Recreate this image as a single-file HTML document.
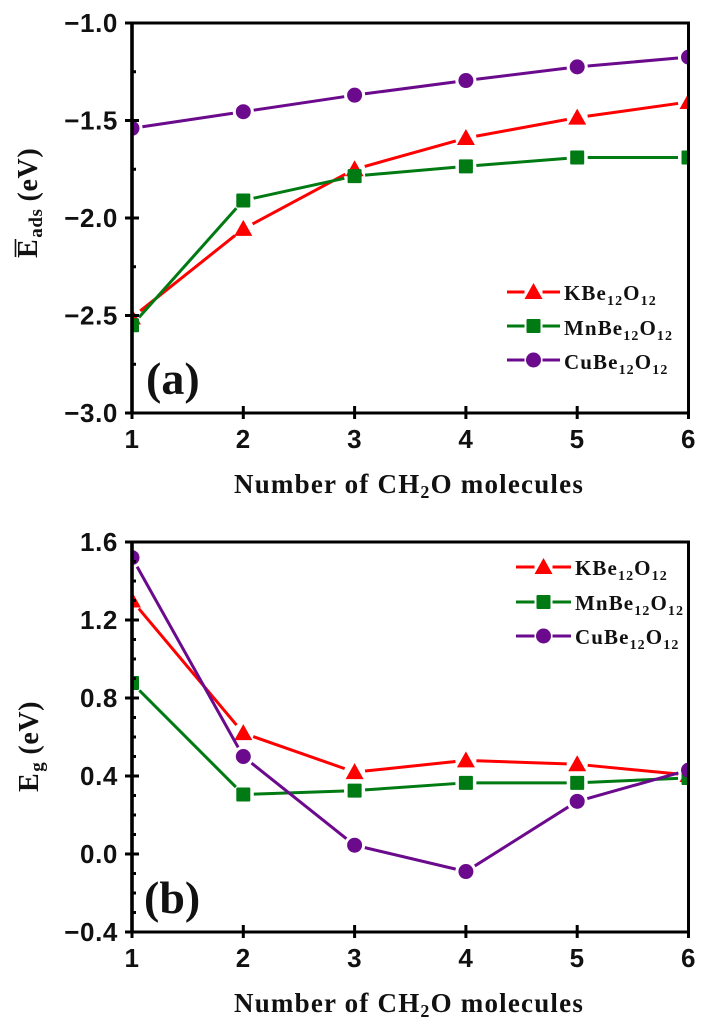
<!DOCTYPE html>
<html lang="en">
<head>
<meta charset="utf-8">
<title>Adsorption energy and band gap vs number of CH2O molecules</title>
<style>
html,body{margin:0;padding:0;background:#fff;}
svg{display:block;}
.tick{font:bold 26px "Liberation Sans",sans-serif;fill:#111;letter-spacing:.6px;}
.title{font:bold 27px "Liberation Serif",serif;fill:#111;letter-spacing:1.2px;}
.ytitle{font:bold 28px "Liberation Serif",serif;fill:#111;letter-spacing:.6px;}
.leg{font:bold 21px "Liberation Serif",serif;fill:#111;letter-spacing:1.1px;}
.panel{font:bold 46px "Liberation Serif",serif;fill:#111;}
</style>
</head>
<body>
<svg id="chart" xmlns="http://www.w3.org/2000/svg" width="716" height="1034" viewBox="0 0 716 1034">
<rect width="716" height="1034" fill="#fff"/>
<g id="panel-a"></g>
<g id="panel-b"></g>

<text class="ytitle" transform="translate(37,258) rotate(-90)">E<tspan font-size="19" dy="5" dx="1">ads</tspan><tspan dy="-5" dx="7">(eV)</tspan></text>
<line x1="15.5" y1="239" x2="15.5" y2="257" stroke="#111" stroke-width="1.6"/>
<text class="ytitle" transform="translate(38,792) rotate(-90)">E<tspan font-size="19" dy="5" dx="1">g</tspan><tspan dy="-5" dx="7">(eV)</tspan></text>

<text class="title" x="234" y="493">Number of CH<tspan font-size="18" dy="5">2</tspan><tspan dy="-5">O molecules</tspan></text>
<text class="title" x="234" y="1012">Number of CH<tspan font-size="18" dy="5">2</tspan><tspan dy="-5">O molecules</tspan></text>

<text class="panel" x="146" y="394">(a)</text>
<text class="panel" x="144" y="913">(b)</text>

<g>
  <g id="leg-a"></g>
  <text class="leg" x="564" y="300">KBe<tspan font-size="14" dy="5">12</tspan><tspan dy="-5">O</tspan><tspan font-size="14" dy="5">12</tspan></text>
  <text class="leg" x="564" y="335">MnBe<tspan font-size="14" dy="5">12</tspan><tspan dy="-5">O</tspan><tspan font-size="14" dy="5">12</tspan></text>
  <text class="leg" x="564" y="369">CuBe<tspan font-size="14" dy="5">12</tspan><tspan dy="-5">O</tspan><tspan font-size="14" dy="5">12</tspan></text>
</g>
<g>
  <g id="leg-b"></g>
  <text class="leg" x="575" y="575">KBe<tspan font-size="14" dy="5">12</tspan><tspan dy="-5">O</tspan><tspan font-size="14" dy="5">12</tspan></text>
  <text class="leg" x="575" y="610">MnBe<tspan font-size="14" dy="5">12</tspan><tspan dy="-5">O</tspan><tspan font-size="14" dy="5">12</tspan></text>
  <text class="leg" x="575" y="644">CuBe<tspan font-size="14" dy="5">12</tspan><tspan dy="-5">O</tspan><tspan font-size="14" dy="5">12</tspan></text>
</g>
</svg>
<script>
const categories = [1, 2, 3, 4, 5, 6];
const eadsTicks = [-3.0, -2.5, -2.0, -1.5, -1.0];
const eadsMinorTicks = [-2.75, -2.25, -1.75, -1.25];
const egTicks = [-0.4, 0.0, 0.4, 0.8, 1.2, 1.6];
const egMinorTicks = [-0.3, -0.2, -0.1, 0.1, 0.2, 0.3, 0.5, 0.6, 0.7, 0.9, 1.0, 1.1, 1.3, 1.4, 1.5];
const eadsK = [-2.51, -2.056, -1.75, -1.59, -1.485, -1.405];
const eadsMn = [-2.55, -1.91, -1.785, -1.735, -1.69, -1.69];
const eadsCu = [-1.54, -1.455, -1.37, -1.295, -1.225, -1.175];
const egK = [1.30, 0.62, 0.42, 0.48, 0.46, 0.405];
const egMn = [0.877, 0.305, 0.325, 0.365, 0.365, 0.39];
const egCu = [1.52, 0.50, 0.045, -0.09, 0.27, 0.43];

const NS = 'http://www.w3.org/2000/svg';
const RED = '#ff0000', GREEN = '#007a12', PURPLE = '#6b0a8c', INK = '#000';

function make(parent, tag, attrs) {
  const el = document.createElementNS(NS, tag);
  for (const k in attrs) el.setAttribute(k, attrs[k]);
  parent.appendChild(el);
  return el;
}
function fmt(v, d) {
  const s = Math.abs(v).toFixed(d);
  return (v < 0 ? '\u2212' : '') + s;
}
function drawMarker(parent, kind, cx, cy, color, clipId) {
  let el;
  const base = clipId ? { 'clip-path': 'url(#' + clipId + ')' } : {};
  if (kind === 'tri') {
    el = make(parent, 'polygon', Object.assign({ points: (cx - 9) + ',' + (cy + 7) + ' ' + (cx + 9) + ',' + (cy + 7) + ' ' + cx + ',' + (cy - 9), fill: color }, base));
  } else if (kind === 'sq') {
    el = make(parent, 'rect', Object.assign({ x: cx - 7, y: cy - 7, width: 14, height: 14, rx: 1, fill: color }, base));
  } else {
    el = make(parent, 'circle', Object.assign({ cx: cx, cy: cy, r: 7.5, fill: color }, base));
  }
  
  
}
function drawPanel(id, top, bottom, yMin, yMax, majors, minors, decimals, seriesList) {
  const root = document.getElementById(id);
  const left = 132, right = 688.5;
  const sx = function (v) { return left + (v - categories[0]) / (categories[categories.length - 1] - categories[0]) * (right - left); };
  const sy = function (v) { return bottom - (v - yMin) / (yMax - yMin) * (bottom - top); };

  const clipId = id + '-clip';
  const defs = make(root, 'defs', {});
  const clip = make(defs, 'clipPath', { id: clipId });
  make(clip, 'rect', { x: left, y: top - 20, width: right - left, height: bottom - top + 40 });

  seriesList.forEach(function (s) {
    const g = make(root, 'g', {});
    
    
    const gap = 10.5;
    for (let i = 0; i < s.values.length - 1; i++) {
      const x1 = sx(categories[i]), y1 = sy(s.values[i]);
      const x2 = sx(categories[i + 1]), y2 = sy(s.values[i + 1]);
      const len = Math.hypot(x2 - x1, y2 - y1);
      const ux = (x2 - x1) / len, uy = (y2 - y1) / len;
      const seg = make(g, 'line', { x1: x1 + ux * gap, y1: y1 + uy * gap, x2: x2 - ux * gap, y2: y2 - uy * gap, stroke: s.color, 'stroke-width': 3 });
      
      
    }
    s.values.forEach(function (v, i) {
      drawMarker(g, s.kind, sx(categories[i]), sy(v), s.color, clipId);
    });
  });

  const frame = make(root, 'path', { d: 'M' + left + ' ' + top + 'H' + right + 'V' + bottom + 'H' + left + 'Z', fill: 'none', stroke: INK, 'stroke-width': 3 });
  
  
  const spine = make(root, 'line', { x1: left, y1: top, x2: left, y2: bottom, stroke: INK, 'stroke-width': 3.6 });
  
  

  majors.forEach(function (v) {
    const y = sy(v);
    const isEnd = (v === yMin || v === yMax);
    const t = make(root, 'line', { x1: 125, y1: y, x2: isEnd ? left : 139, y2: y, stroke: INK, 'stroke-width': 3 });
    
    
    const label = make(root, 'text', { x: 118, y: y + 9, 'text-anchor': 'end', class: 'tick' });
    
    
    label.textContent = fmt(v, decimals);
  });
  minors.forEach(function (v) {
    const y = sy(v);
    const t = make(root, 'line', { x1: left, y1: y, x2: 136, y2: y, stroke: INK, 'stroke-width': 3 });
    
    
  });
  categories.forEach(function (c, i) {
    const x = sx(c);
    const isLast = i === categories.length - 1;
    const t = make(root, 'line', { x1: x, y1: isLast || i === 0 ? bottom : bottom - 7, x2: x, y2: bottom + 6, stroke: INK, 'stroke-width': 3 });
    
    
    const label = make(root, 'text', { x: x, y: bottom + 35, 'text-anchor': 'middle', class: 'tick' });
    
    
    label.textContent = String(c);
  });
}
function drawLegend(id, x1, x2, rows) {
  const root = document.getElementById(id);
  const cx = (x1 + x2) / 2;
  rows.forEach(function (r) {
    const l1 = make(root, 'line', { x1: x1, y1: r.y, x2: cx - 9, y2: r.y, stroke: r.color, 'stroke-width': 3 });
    
    
    const l2 = make(root, 'line', { x1: cx + 9, y1: r.y, x2: x2, y2: r.y, stroke: r.color, 'stroke-width': 3 });
    
    
    drawMarker(root, r.kind, cx, r.y, r.color, null);
  });
}

drawPanel('panel-a', 23, 413, -3.0, -1.0, eadsTicks, eadsMinorTicks, 1, [
  { name: 'kbe12o12', kind: 'tri', color: RED, values: eadsK },
  { name: 'mnbe12o12', kind: 'sq', color: GREEN, values: eadsMn },
  { name: 'cube12o12', kind: 'circ', color: PURPLE, values: eadsCu }
]);
drawPanel('panel-b', 542, 932, -0.4, 1.6, egTicks, egMinorTicks, 1, [
  { name: 'kbe12o12', kind: 'tri', color: RED, values: egK },
  { name: 'mnbe12o12', kind: 'sq', color: GREEN, values: egMn },
  { name: 'cube12o12', kind: 'circ', color: PURPLE, values: egCu }
]);
drawLegend('leg-a', 507, 560, [
  { kind: 'tri', color: RED, y: 292 },
  { kind: 'sq', color: GREEN, y: 326 },
  { kind: 'circ', color: PURPLE, y: 360 }
]);
drawLegend('leg-b', 516, 571, [
  { kind: 'tri', color: RED, y: 567 },
  { kind: 'sq', color: GREEN, y: 602 },
  { kind: 'circ', color: PURPLE, y: 636 }
]);
</script>
</body>
</html>
